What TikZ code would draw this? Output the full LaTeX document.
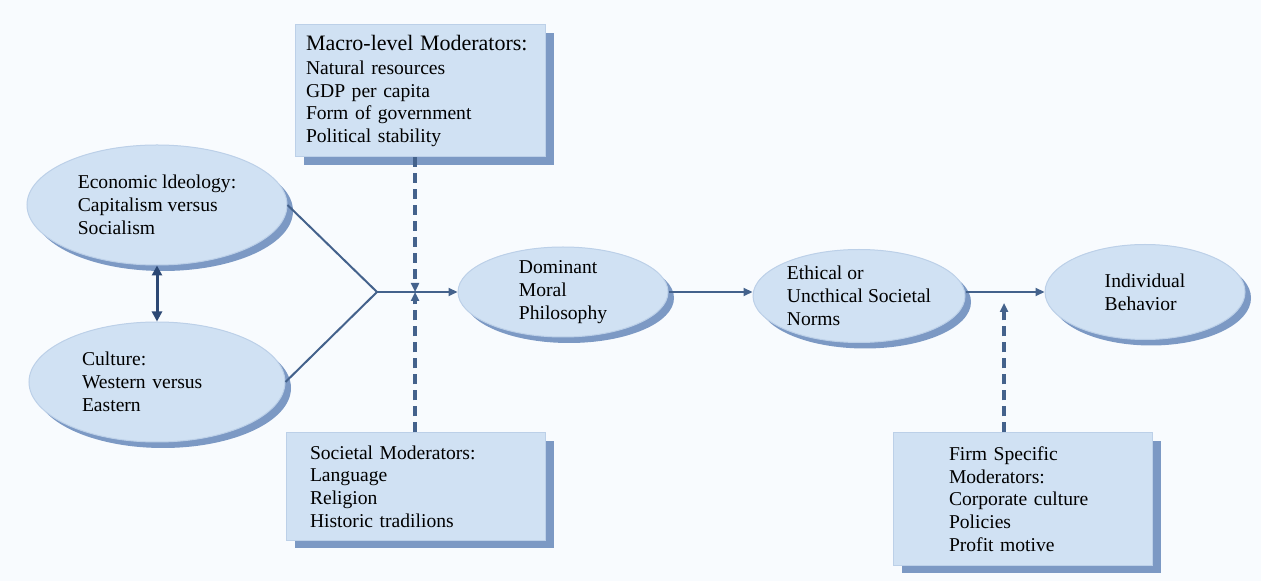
\documentclass[tikz,border=0pt]{standalone}
\usepackage{fontspec}
\setmainfont{Liberation Serif}
\usetikzlibrary{shapes.geometric, arrows.meta, positioning, shadows}
\definecolor{paleblue}{RGB}{208,225,243}
\definecolor{edgeblue}{RGB}{188,208,232}
\definecolor{shadeblue}{RGB}{124,153,196}
\definecolor{lineblue}{RGB}{68,98,140}
\definecolor{darkblue}{RGB}{44,72,116}
\definecolor{bgwhite}{RGB}{248,251,254}

\begin{document}
\begin{tikzpicture}[
    x=0.5pt, y=-0.5pt,
    >={Triangle[length=4.5pt, width=4pt]},
    oval/.style={ellipse, fill=paleblue, draw=edgeblue, line width=0.5pt,
                 inner sep=0pt, align=left, font=\fontsize{9.8}{11.4}\selectfont,
                 copy shadow={shadow xshift=3pt, shadow yshift=-3pt,
                              fill=shadeblue, draw=none}},
    modbox/.style={rectangle, fill=paleblue, draw=edgeblue, line width=0.5pt,
                   inner ysep=0pt, align=left, font=\fontsize{9.8}{11.4}\selectfont,
                   copy shadow={shadow xshift=4.5pt, shadow yshift=-4pt,
                                fill=shadeblue, draw=none}},
    link/.style={draw=lineblue, line width=1pt},
    dashlink/.style={draw=lineblue, line width=1.6pt, dash pattern=on 5pt off 3pt}
]
    \fill[bgwhite] (0,0) rectangle (1261,581);
    \useasboundingbox (0,0) rectangle (1261,581);

    % moderator boxes
    \node[modbox, minimum height=66pt, inner xsep=5.5pt, text width=114pt] (macro) at (420,91)
        {{\fontsize{11}{13}\selectfont Macro-level Moderators:}\\[0.5pt]
         Natural resources\\ GDP per capita\\ Form of government\\ Political stability};
    \node[modbox, minimum height=53.5pt, inner xsep=12pt, text width=105.5pt] (societal) at (415.5,486.5)
        {Societal Moderators:\\ Language\\ Religion\\ Historic tradilions};
    \node[modbox, minimum height=66pt, inner xsep=28pt, text width=73.5pt] (firm) at (1022.5,499)
        {Firm Specific\\ Moderators:\\ Corporate culture\\ Policies\\ Profit motive};

    % ellipses
    \node[oval, minimum width=130pt, minimum height=60pt] (econ) at (157,205)
        {Economic ldeology:\\ Capitalism versus\\ Socialism};
    \node[oval, minimum width=128pt, minimum height=60pt, text width=75pt] (culture) at (157,382)
        {Culture:\\ Western versus\\ Eastern};
    \node[oval, minimum width=105pt, minimum height=45pt] (moral) at (563,292)
        {Dominant\\ Moral\\ Philosophy};
    \node[oval, minimum width=106pt, minimum height=46.5pt] (norms) at (859,296)
        {Ethical or\\ Uncthical Societal\\ Norms};
    \node[oval, minimum width=100pt, minimum height=47.5pt] (behavior) at (1145,292)
        {Individual\\ Behavior};

    \coordinate (junc) at (377,292);
    \coordinate (hitA) at (415,292);
    \coordinate (hitB) at (1004,303);

    % connectors
    \draw[darkblue, line width=1.5pt, <->, >={Triangle[length=5pt, width=5pt]}]
        (econ.south) -- (culture.north);
    \draw[link] (econ.east) -- (junc);
    \draw[link] (culture.east) -- (junc);
    \draw[link, ->] (junc) -- (moral.west);
    \draw[link, ->] (moral.east |- junc) -- (norms.west |- junc);
    \draw[link, ->] (norms.east |- junc) -- (behavior.west |- junc);

    \draw[dashlink, ->] (hitA |- macro.south) -- (hitA);
    \draw[dashlink, ->] (hitA |- societal.north) -- (hitA);
    \draw[dashlink, ->] (hitB |- firm.north) -- (hitB);
\end{tikzpicture}
\end{document}
